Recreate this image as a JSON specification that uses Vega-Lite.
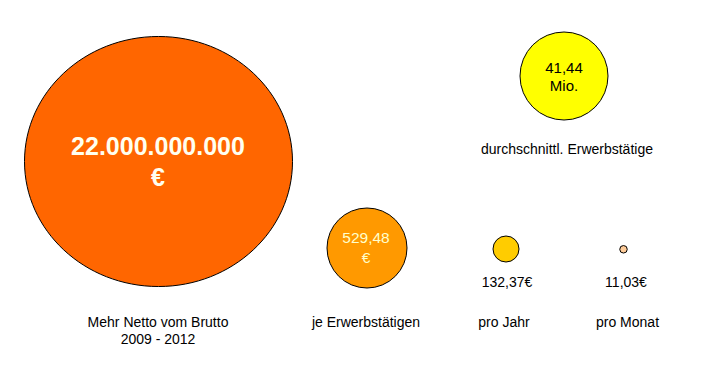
{
  "$schema": "https://vega.github.io/schema/vega-lite/v6.json",
  "width": 703,
  "height": 386,
  "autosize": {"type": "fit", "contains": "padding"},
  "padding": 0,
  "background": "white",
  "config": {"view": {"stroke": null}, "text": {"font": "Liberation Sans"}},
  "datasets": {
    "kreise": [
      {"id": "Mehr Netto vom Brutto", "wert": 22000000000, "px": 158.5, "py": 161.5},
      {"id": "je Erwerbstätigen", "wert": 529.48, "px": 367, "py": 248},
      {"id": "pro Jahr", "wert": 132.37, "px": 506, "py": 249},
      {"id": "pro Monat", "wert": 11.03, "px": 623.5, "py": 249.3},
      {"id": "durchschnittl. Erwerbstätige", "wert": 41440000, "px": 564, "py": 76}
    ],
    "texte": [
      {"t": "22.000.000.000", "px": 158, "py": 155, "art": "gross"},
      {"t": "€", "px": 158, "py": 185.5, "art": "gross"},
      {"t": "529,48", "px": 366, "py": 243, "art": "hell"},
      {"t": "€", "px": 366, "py": 263, "art": "hell"},
      {"t": "41,44", "px": 564, "py": 72.5, "art": "innen"},
      {"t": "Mio.", "px": 564, "py": 91, "art": "innen"},
      {"t": "132,37€", "px": 507, "py": 287, "art": "label"},
      {"t": "11,03€", "px": 626, "py": 287, "art": "label"},
      {"t": "durchschnittl. Erwerbstätige", "px": 567, "py": 153.5, "art": "label"},
      {"t": "Mehr Netto vom Brutto", "px": 158, "py": 327, "art": "label"},
      {"t": "2009 - 2012", "px": 158, "py": 344, "art": "label"},
      {"t": "je Erwerbstätigen", "px": 366, "py": 327, "art": "label"},
      {"t": "pro Jahr", "px": 504, "py": 327, "art": "label"},
      {"t": "pro Monat", "px": 627.5, "py": 327, "art": "label"}
    ]
  },
  "encoding": {
    "x": {"field": "px", "type": "quantitative", "scale": {"domain": [0, 703], "nice": false, "zero": false}, "axis": null},
    "y": {"field": "py", "type": "quantitative", "scale": {"domain": [386, 0], "nice": false, "zero": false}, "axis": null}
  },
  "layer": [
    {
      "data": {"name": "kreise"},
      "mark": {"type": "point", "filled": true, "stroke": "#000000", "strokeWidth": 1, "opacity": 1},
      "encoding": {
        "shape": {
          "field": "id", "type": "nominal", "legend": null,
          "scale": {
            "domain": ["Mehr Netto vom Brutto", "je Erwerbstätigen", "pro Jahr", "pro Monat", "durchschnittl. Erwerbstätige"],
            "range": ["M-1,0A1,0.933,0,1,0,1,0A1,0.933,0,1,0,-1,0Z", "circle", "circle", "circle", "circle"]
          }
        },
        "size": {
          "field": "wert", "type": "quantitative", "legend": null,
          "scale": {"type": "threshold", "domain": [100, 300, 1000000, 1000000000], "range": [56, 676, 6400, 7744, 71824]}
        },
        "fill": {
          "field": "id", "type": "nominal", "legend": null,
          "scale": {
            "domain": ["Mehr Netto vom Brutto", "je Erwerbstätigen", "pro Jahr", "pro Monat", "durchschnittl. Erwerbstätige"],
            "range": ["#FF6600", "#FF9900", "#FFCC00", "#FFCC99", "#FFFF00"]
          }
        }
      }
    },
    {
      "data": {"name": "texte"},
      "transform": [{"filter": "datum.art === 'gross'"}],
      "mark": {"type": "text", "align": "center", "baseline": "alphabetic", "font": "Liberation Sans", "fontWeight": "bold", "fontSize": 25, "fill": "#FFFFF0"},
      "encoding": {"text": {"field": "t"}}
    },
    {
      "data": {"name": "texte"},
      "transform": [{"filter": "datum.art === 'hell'"}],
      "mark": {"type": "text", "align": "center", "baseline": "alphabetic", "font": "Liberation Sans", "fontSize": 15.5, "fill": "#FFFFCC"},
      "encoding": {"text": {"field": "t"}}
    },
    {
      "data": {"name": "texte"},
      "transform": [{"filter": "datum.art === 'innen'"}],
      "mark": {"type": "text", "align": "center", "baseline": "alphabetic", "font": "Liberation Sans", "fontSize": 15, "fill": "#000000"},
      "encoding": {"text": {"field": "t"}}
    },
    {
      "data": {"name": "texte"},
      "transform": [{"filter": "datum.art === 'label'"}],
      "mark": {"type": "text", "align": "center", "baseline": "alphabetic", "font": "Liberation Sans", "fontSize": 14, "fill": "#000000"},
      "encoding": {"text": {"field": "t"}}
    }
  ]
}
